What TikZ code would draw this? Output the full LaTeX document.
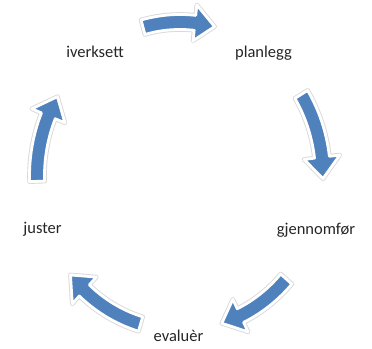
\documentclass[tikz,border=0pt]{standalone}
\usepackage{fontspec}
\setmainfont{Carlito}
\definecolor{arrowblue}{RGB}{79,129,189}
\definecolor{labeltext}{RGB}{38,38,38}
\tikzset{
  lbl/.style={anchor=base, inner sep=0pt, text=labeltext, font=\fontsize{16.5}{19}\selectfont},
  arrowshadow/.style={draw=black!15, line width=4.6pt, line join=round},
  arrowbody/.style={draw=white, line width=2.8pt, fill=arrowblue, line join=round}
}
% #1 tail angle, #2 tip angle, #3 style
\newcommand{\cyclearrow}[3]{%
  \pgfmathsetmacro{\hb}{#2+8}%
  \path[#3] (#1:150.5pt and 161.5pt)
    arc[start angle=#1, end angle=\hb, x radius=150.5pt, y radius=161.5pt]
    -- (\hb:161pt and 172pt) -- (#2:143pt and 154pt) -- (\hb:125pt and 136pt)
    -- (\hb:135.5pt and 146.5pt)
    arc[start angle=\hb, end angle=#1, x radius=135.5pt, y radius=146.5pt] -- cycle;
}
\begin{document}
\begin{tikzpicture}[x=1pt,y=1pt]
\fill[white] (0,0) rectangle (372,348);
\useasboundingbox (0,0) rectangle (372,348);
\node[lbl] (iverksett) at (95,290) {iverksett};
\node[lbl] (planlegg) at (263.5,290) {planlegg};
\node[lbl] (gjennomfor) at (316,113) {gjennomfør};
\node[lbl] (evaluer) at (178.5,6) {evaluèr};
\node[lbl] (juster) at (42.5,114) {juster};
\begin{scope}[shift={(180,172)}]
  \foreach \a/\b in {105/76, 32/-1, -42/-73, -106/-140, 182/149}{
    \cyclearrow{\a}{\b}{arrowshadow}
    \cyclearrow{\a}{\b}{arrowbody}
  }
\end{scope}
\end{tikzpicture}
\end{document}
